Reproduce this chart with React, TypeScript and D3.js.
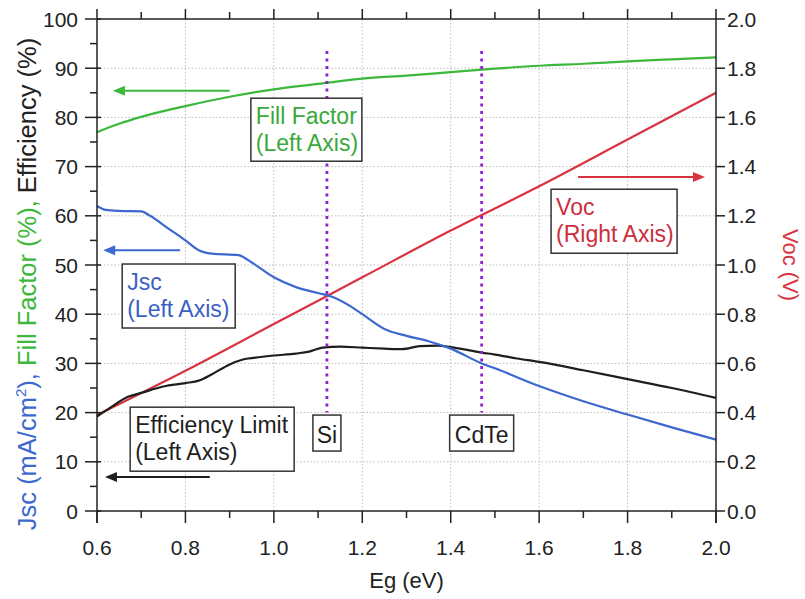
import React from "react";
import * as d3 from "d3";

// ---------------- data ----------------
const egFill = [0.6, 0.65, 0.7, 0.8, 0.9, 1.0, 1.1, 1.2, 1.3, 1.4, 1.5, 1.6, 1.7, 1.8, 1.9, 2.0];
const fillFactor = [77.0, 78.7, 80.1, 82.3, 84.2, 85.7, 86.8, 87.9, 88.5, 89.2, 89.9, 90.5, 90.9, 91.4, 91.8, 92.2];

const egJsc = [0.6, 0.62, 0.65, 0.7, 0.72, 0.76, 0.8, 0.83, 0.86, 0.92, 0.95, 1.0, 1.05, 1.1, 1.13, 1.17, 1.2, 1.25, 1.3, 1.35, 1.4, 1.47, 1.5, 1.6, 1.7, 1.8, 1.9, 2.0];
const jsc = [62.0, 61.2, 61.0, 60.9, 60.0, 57.5, 55.0, 53.0, 52.3, 52.0, 50.5, 47.5, 45.5, 44.3, 43.6, 41.8, 40.0, 37.0, 35.6, 34.5, 33.0, 30.0, 29.0, 25.4, 22.3, 19.6, 17.0, 14.5];

const egEff = [0.6, 0.63, 0.67, 0.7, 0.75, 0.8, 0.83, 0.86, 0.9, 0.93, 0.97, 1.0, 1.05, 1.08, 1.11, 1.15, 1.2, 1.25, 1.29, 1.33, 1.37, 1.4, 1.47, 1.5, 1.55, 1.6, 1.7, 1.8, 1.9, 2.0];
const efficiency = [19.2, 21.0, 23.2, 24.0, 25.3, 26.0, 26.5, 27.8, 29.8, 30.8, 31.3, 31.6, 32.0, 32.4, 33.2, 33.4, 33.2, 33.0, 32.9, 33.5, 33.6, 33.3, 32.2, 31.8, 31.0, 30.3, 28.6, 26.8, 25.0, 23.0];

const egVoc = [0.6, 0.8, 1.0, 1.2, 1.4, 1.6, 1.8, 2.0];
const voc = [0.39, 0.57, 0.76, 0.95, 1.14, 1.32, 1.51, 1.70];

const markerNames = ["Si", "CdTe"];
const markerEg = [1.12, 1.47];

const xTicks = [0.6, 0.8, 1.0, 1.2, 1.4, 1.6, 1.8, 2.0];
const leftTicks = [0, 10, 20, 30, 40, 50, 60, 70, 80, 90, 100];
const rightTicks = [0, 0.2, 0.4, 0.6, 0.8, 1.0, 1.2, 1.4, 1.6, 1.8, 2.0];

// ---------------- layout ----------------
const W = 805;
const H = 599;
const M = { left: 97, right: 89, top: 19, bottom: 88 };
const FONT = "'Liberation Sans', Arial, Helvetica, sans-serif";

const GREEN = "#3cb83c";
const BLUE = "#3d68cf";
const RED = "#d83440";
const BLACK = "#1e1e1e";
const PURPLE = "#8e22c8";

export default function App() {
  const x = d3.scaleLinear().domain([0.6, 2.0]).range([M.left, W - M.right]);
  const y = d3.scaleLinear().domain([0, 100]).range([H - M.bottom, M.top]);
  const yR = d3.scaleLinear().domain([0, 2]).range([H - M.bottom, M.top]);

  const x0 = M.left;
  const x1 = W - M.right;
  const y0 = H - M.bottom;
  const y1 = M.top;

  const line = (xs: number[], ys: number[], sy: d3.ScaleLinear<number, number>) =>
    d3
      .line<number>()
      .x((_, i) => x(xs[i]))
      .y((d) => sy(d))
      .curve(d3.curveMonotoneX)(ys) as string;

  const minorX = d3.range(6, 21).map((d) => d / 10);
  const minorY = d3.range(0, 101, 5);

  // arrows (in data units) : [fromEg, toEg, value on left axis]
  const arrows = [
    { from: 0.9, to: 0.636, v: 85.4, color: GREEN },
    { from: 0.788, to: 0.614, v: 53.0, color: BLUE },
    { from: 0.855, to: 0.618, v: 6.9, color: BLACK },
    { from: 1.688, to: 1.975, v: 67.9, color: RED },
  ];

  // text boxes, anchored at top-left in data units
  const boxes = [
    { eg: 0.948, v: 83.9, w: 111, h: 63, lines: ["Fill Factor", "(Left Axis)"], color: "#3aa83a" },
    { eg: 0.657, v: 50.2, w: 113, h: 64, lines: ["Jsc", "(Left Axis)"], color: "#3a5fc0" },
    { eg: 1.627, v: 65.4, w: 126, h: 64, lines: ["Voc", "(Right Axis)"], color: "#cc2e3c" },
    { eg: 0.675, v: 21.1, w: 164, h: 64, lines: ["Efficiency Limit", "(Left Axis)"], color: BLACK },
  ];

  const arrowHead = (tx: number, ty: number, dir: number) => {
    const len = 12;
    const hw = 5;
    return `M${tx},${ty}L${tx - dir * len},${ty - hw}L${tx - dir * len},${ty + hw}Z`;
  };

  return (
    <svg
      width={W}
      height={H}
      style={{ position: "absolute", left: 0, top: 0, background: "#fff" }}
      fontFamily={FONT}
    >
      {/* ---------------- grid ---------------- */}
      {xTicks.slice(1, -1).map((t) => (
        <line key={"gx" + t} x1={x(t)} x2={x(t)} y1={y0} y2={y1} stroke="#bdbdbd" strokeWidth={1} strokeDasharray="1.5 2" />
      ))}
      {leftTicks.slice(1, -1).map((t) => (
        <line key={"gy" + t} x1={x0} x2={x1} y1={y(t)} y2={y(t)} stroke="#bdbdbd" strokeWidth={1} strokeDasharray="1.5 2" />
      ))}

      {/* ---------------- curves ---------------- */}
      <path d={line(egFill, fillFactor, y)} fill="none" stroke={GREEN} strokeWidth={2.2} />
      <path d={line(egVoc, voc, yR)} fill="none" stroke={RED} strokeWidth={2.2} />
      <path d={line(egEff, efficiency, y)} fill="none" stroke={BLACK} strokeWidth={2.2} />
      <path d={line(egJsc, jsc, y)} fill="none" stroke={BLUE} strokeWidth={2.2} />

      {/* ---------------- material markers ---------------- */}
      {markerEg.map((e, i) => (
        <line key={"m" + i} x1={x(e)} x2={x(e)} y1={y(93.5)} y2={y(20)} stroke={PURPLE} strokeWidth={2.8} strokeDasharray="3 4.5" />
      ))}

      {/* ---------------- boxes ---------------- */}
      {boxes.map((b, i) => (
        <g key={"b" + i} transform={`translate(${x(b.eg)},${y(b.v)})`}>
          <rect width={b.w} height={b.h} fill="#fff" stroke="#333" strokeWidth={1.5} />
          {b.lines.map((t, j) => (
            <text key={j} x={5} y={26 + j * 27} fontSize={23} fill={b.color}>
              {t}
            </text>
          ))}
        </g>
      ))}
      {markerEg.map((e, i) => {
        const w = i === 0 ? 28 : 64;
        return (
          <g key={"mb" + i} transform={`translate(${x(e)},${y(19.5)})`}>
            <rect x={-w / 2} y={0} width={w} height={36} fill="#fff" stroke="#333" strokeWidth={1.5} />
            <text x={0} y={28} fontSize={23} textAnchor="middle" fill={BLACK}>
              {markerNames[i]}
            </text>
          </g>
        );
      })}

      {/* ---------------- arrows ---------------- */}
      {arrows.map((a, i) => {
        const dir = a.to > a.from ? 1 : -1;
        const ty = y(a.v);
        return (
          <g key={"a" + i}>
            <line x1={x(a.from)} x2={x(a.to) - dir * 8} y1={ty} y2={ty} stroke={a.color} strokeWidth={2} />
            <path d={arrowHead(x(a.to), ty, dir)} fill={a.color} />
          </g>
        );
      })}

      {/* ---------------- axes ---------------- */}
      <line x1={x0} x2={x0} y1={y1} y2={y0 + 12} stroke="#222" strokeWidth={1.5} />
      <line x1={x1} x2={x1} y1={y1} y2={y0 + 12} stroke="#222" strokeWidth={1.5} />
      <line x1={x0} x2={x1} y1={y0} y2={y0} stroke="#222" strokeWidth={1.5} />
      <line x1={x0} x2={x1} y1={y1} y2={y1} stroke="#222" strokeWidth={1.5} />

      {/* bottom & top ticks */}
      {minorX.map((t) => {
        const major = xTicks.some((m) => Math.abs(m - t) < 1e-6);
        return (
          <g key={"tx" + t}>
            <line x1={x(t)} x2={x(t)} y1={y0} y2={y0 + (major ? 12 : 7)} stroke="#222" strokeWidth={1.5} />
            <line x1={x(t)} x2={x(t)} y1={y1} y2={y1 - (major ? 10 : 7)} stroke="#222" strokeWidth={1.5} />
          </g>
        );
      })}
      {xTicks.map((t) => (
        <text key={"lx" + t} x={x(t)} y={y0 + 44} fontSize={21} textAnchor="middle" fill="#222">
          {d3.format(".1f")(t)}
        </text>
      ))}

      {/* left ticks */}
      {minorY.map((t) => {
        const major = t % 10 === 0;
        return (
          <line key={"ty" + t} x1={x0 - (major ? 12 : 7)} x2={x0 + (major ? 4 : 0)} y1={y(t)} y2={y(t)} stroke="#222" strokeWidth={1.5} />
        );
      })}
      {leftTicks.map((t) => (
        <text key={"ly" + t} x={x0 - 19} y={y(t) + 7.5} fontSize={21} textAnchor="end" fill="#222">
          {t}
        </text>
      ))}

      {/* right ticks */}
      {rightTicks.map((t) => (
        <line key={"tr" + t} x1={x1} x2={x1 + 9} y1={yR(t)} y2={yR(t)} stroke="#222" strokeWidth={1.5} />
      ))}
      {rightTicks.map((t) => (
        <text key={"lr" + t} x={x1 + 11} y={yR(t) + 7.5} fontSize={21} textAnchor="start" fill="#222">
          {d3.format(".1f")(t)}
        </text>
      ))}

      {/* ---------------- axis titles ---------------- */}
      <text x={(x0 + x1) / 2} y={588} fontSize={22} textAnchor="middle" fill="#222">
        Eg (eV)
      </text>
      <text transform={`translate(36,284) rotate(-90)`} fontSize={25.5} textAnchor="middle">
        <tspan fill={BLUE}>Jsc (mA/cm</tspan>
        <tspan fill={BLUE} fontSize={15} dy={-10}>2</tspan>
        <tspan fill={BLUE} dy={10}>), </tspan>
        <tspan fill={GREEN}>Fill Factor (%), </tspan>
        <tspan fill="#222">Efficiency (%)</tspan>
      </text>
      <text transform={`translate(783,${(y0 + y1) / 2}) rotate(90)`} fontSize={22} textAnchor="middle" fill={RED}>
        Voc (V)
      </text>
    </svg>
  );
}
